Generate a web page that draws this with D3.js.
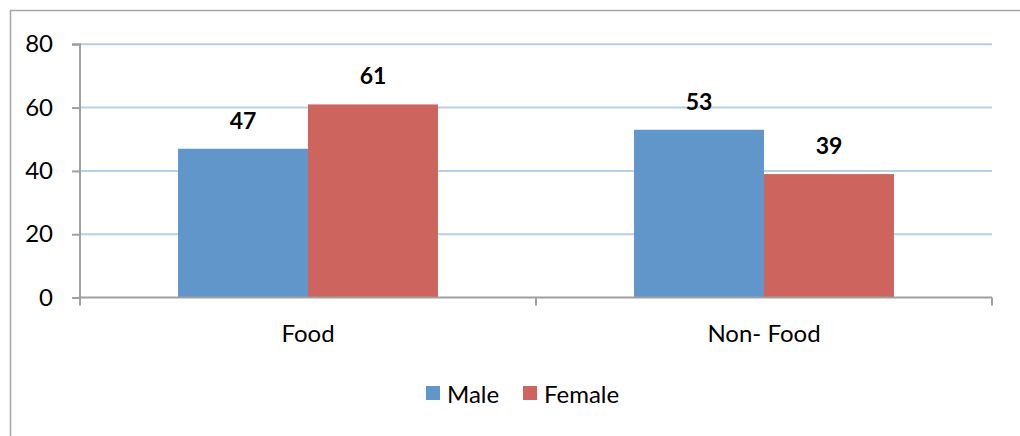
<!DOCTYPE html>
<html>
<head>
<meta charset="utf-8">
<script src="https://cdn.jsdelivr.net/npm/d3@7"></script>
<style>
  html, body { margin: 0; padding: 0; background: #fff; }
  svg { display: block; font-family: Lato, "Open Sans", sans-serif; }
</style>
</head>
<body>
<svg id="chart" width="1020" height="436"></svg>
<script>
// Spending split by category and gender
const categories = ["Food", "Non- Food"];
const seriesNames = ["Male", "Female"];
const maleValues = [47, 53];
const femaleValues = [61, 39];
const yTicks = [0, 20, 40, 60, 80];
const colors = ["#6096ca", "#cd655e"];

const svg = d3.select("#chart");
const W = 1020, H = 436;
const FS = 24;

// outer frame
svg.append("path")
  .attr("d", `M10.5,${H + 2} V10.5 H${W + 2}`)
  .attr("fill", "none").attr("stroke", "#a6a6a6").attr("stroke-width", 1.5);

const plot = { left: 80, right: 992, top: 44.3, bottom: 297.5 };

const x0 = d3.scaleBand().domain(categories)
  .range([plot.left, plot.right]).paddingInner(0.43).paddingOuter(0.215);
const x1 = d3.scaleBand().domain(seriesNames).range([0, x0.bandwidth()]);
const y = d3.scaleLinear().domain([0, 80]).range([plot.bottom, plot.top]);

// gridlines
svg.append("g").selectAll("line").data(yTicks.filter(t => t > 0)).join("line")
  .attr("x1", plot.left).attr("x2", plot.right)
  .attr("y1", d => y(d)).attr("y2", d => y(d))
  .attr("stroke", "#b9cfe8").attr("stroke-width", 2);

// bars
const rows = categories.map((c, i) => ({ cat: c, vals: [maleValues[i], femaleValues[i]] }));
const groups = svg.append("g").selectAll("g").data(rows).join("g")
  .attr("transform", d => `translate(${x0(d.cat)},0)`);

groups.selectAll("rect").data(d => d.vals.map((v, k) => ({ v, name: seriesNames[k], k })))
  .join("rect")
  .attr("x", d => x1(d.name))
  .attr("width", x1.bandwidth())
  .attr("y", d => y(d.v))
  .attr("height", d => y(0) - y(d.v))
  .attr("fill", d => colors[d.k]);

// value labels
groups.selectAll("text").data(d => d.vals.map((v, k) => ({ v, name: seriesNames[k] })))
  .join("text")
  .attr("x", d => x1(d.name) + x1.bandwidth() / 2)
  .attr("y", d => y(d.v) - 20)
  .attr("text-anchor", "middle")
  .attr("font-size", 23).attr("font-weight", "bold").attr("fill", "#000")
  .text(d => d.v);

// y axis
const yAxis = d3.axisLeft(y).tickValues(yTicks).tickSize(8).tickPadding(19).tickFormat(d3.format("d"));
const gy = svg.append("g").attr("transform", `translate(${plot.left},0)`).call(yAxis);
gy.select(".domain").attr("stroke", "#a0a0a0").attr("stroke-width", 2).attr("d", `M-8,${y(80)}H0V${y(0) + 7}`);
gy.selectAll(".tick line").attr("stroke", "#a0a0a0").attr("stroke-width", 2);
gy.selectAll(".tick text").attr("font-size", FS).attr("font-family", "Lato, sans-serif").attr("fill", "#000");

// x axis
const gx = svg.append("g").attr("transform", `translate(0,${plot.bottom})`);
gx.append("line").attr("x1", plot.left).attr("x2", plot.right)
  .attr("stroke", "#a0a0a0").attr("stroke-width", 2);
const boundaries = [plot.left, (x0("Food") + x0.bandwidth() + x0("Non- Food")) / 2, plot.right];
gx.selectAll(".xt").data(boundaries).join("line").attr("class", "xt")
  .attr("x1", d => d).attr("x2", d => d).attr("y1", 0).attr("y2", 8)
  .attr("stroke", "#a0a0a0").attr("stroke-width", 2);
gx.selectAll(".xl").data(categories).join("text").attr("class", "xl")
  .attr("x", d => x0(d) + x0.bandwidth() / 2).attr("y", 44)
  .attr("text-anchor", "middle").attr("font-size", FS).attr("fill", "#000")
  .text(d => d);

// legend
const legend = svg.append("g").attr("transform", "translate(426,386)");
const legendX = [0, 97];
seriesNames.forEach((name, i) => {
  const g = legend.append("g").attr("transform", `translate(${legendX[i]},0)`);
  g.append("rect").attr("width", 14).attr("height", 14).attr("fill", colors[i]);
  g.append("text").attr("x", 21).attr("y", 16.5).attr("font-size", FS).attr("fill", "#000").text(name);
});
</script>
</body>
</html>
